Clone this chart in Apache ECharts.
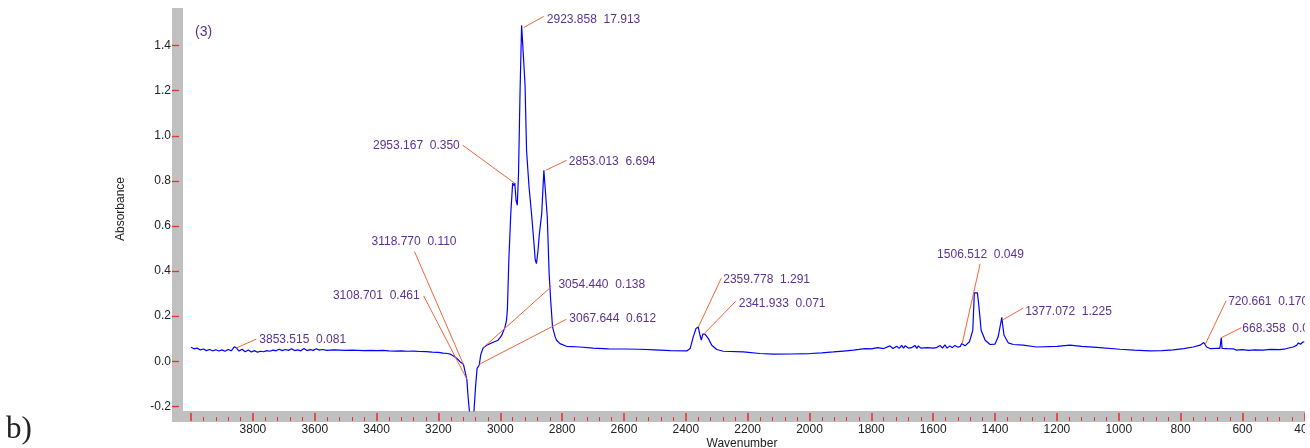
<!DOCTYPE html>
<html>
<head>
<meta charset="utf-8">
<script src="https://cdn.jsdelivr.net/npm/echarts@6/dist/echarts.min.js"></script>
<style>
  html, body { margin: 0; padding: 0; background: #fff; overflow: hidden; }
  #chart { width: 1305px; height: 448px; }
</style>
</head>
<body>
<div id="chart"></div>
<script>
// FTIR absorbance spectrum, [wavenumber (cm-1), absorbance]
const spectrum = [
  [4000,0.062],[3990,0.055],[3980,0.058],[3970,0.050],[3960,0.054],[3950,0.047],[3940,0.052],[3930,0.046],
  [3920,0.051],[3910,0.045],[3900,0.050],[3890,0.044],[3880,0.052],[3870,0.046],[3860,0.064],[3853,0.058],
  [3845,0.045],[3835,0.053],[3825,0.042],[3815,0.050],[3805,0.041],[3795,0.047],[3785,0.040],[3775,0.044],
  [3765,0.042],[3755,0.047],[3745,0.044],[3735,0.049],[3725,0.046],[3715,0.053],[3705,0.047],[3695,0.052],
  [3685,0.048],[3675,0.055],[3665,0.047],[3655,0.050],[3645,0.046],[3635,0.056],[3625,0.047],[3615,0.051],
  [3605,0.048],[3595,0.055],[3585,0.049],[3575,0.052],[3560,0.048],[3540,0.050],[3520,0.049],[3500,0.048],
  [3480,0.049],[3460,0.048],[3440,0.047],[3420,0.048],[3400,0.047],[3380,0.048],[3360,0.046],[3340,0.045],
  [3320,0.046],[3300,0.044],[3280,0.045],[3260,0.043],[3240,0.042],[3220,0.040],[3200,0.039],[3185,0.036],
  [3170,0.034],[3160,0.030],[3150,0.022],[3140,0.012],[3128,-0.005],[3119,-0.014],[3114,-0.045],[3108,-0.083],
  [3104,-0.160],[3100,-0.220],[3096,-0.250],[3090,-0.260],[3085,-0.220],[3080,-0.114],[3075,-0.032],[3068,-0.017],
  [3063,0.030],[3055,0.060],[3044,0.071],[3023,0.084],[3007,0.093],[2996,0.113],[2985,0.150],[2980,0.180],
  [2977,0.230],[2972,0.460],[2966,0.655],[2960,0.790],[2956,0.780],[2953,0.790],[2949,0.714],[2945,0.692],
  [2941,0.832],[2936,1.200],[2931,1.490],[2926,1.490],[2924,1.490],[2920,1.230],[2915,0.935],[2907,0.773],
  [2899,0.655],[2891,0.522],[2887,0.450],[2883,0.433],[2878,0.490],[2874,0.559],[2866,0.655],[2859,0.847],
  [2853,0.847],[2848,0.640],[2842,0.389],[2837,0.270],[2831,0.152],[2823,0.110],[2818,0.093],[2807,0.078],
  [2786,0.066],[2743,0.063],[2700,0.058],[2650,0.055],[2600,0.054],[2550,0.053],[2500,0.050],[2450,0.047],
  [2396,0.046],[2386,0.056],[2376,0.108],[2367,0.145],[2360,0.152],[2354,0.115],[2350,0.093],[2345,0.120],
  [2338,0.120],[2327,0.100],[2316,0.071],[2300,0.052],[2279,0.044],[2214,0.041],[2160,0.034],[2117,0.031],
  [2060,0.032],[1998,0.034],[1960,0.037],[1923,0.041],[1890,0.045],[1858,0.049],[1840,0.052],[1820,0.056],
  [1800,0.055],[1780,0.060],[1760,0.056],[1740,0.068],[1730,0.056],[1718,0.066],[1710,0.057],[1702,0.070],
  [1696,0.058],[1691,0.068],[1680,0.058],[1670,0.060],[1659,0.070],[1653,0.057],[1648,0.068],[1640,0.058],
  [1620,0.060],[1600,0.058],[1590,0.060],[1578,0.070],[1570,0.058],[1562,0.072],[1555,0.058],[1546,0.068],
  [1538,0.060],[1530,0.070],[1520,0.062],[1512,0.066],[1508,0.078],[1497,0.068],[1483,0.086],[1472,0.137],
  [1467,0.303],[1457,0.303],[1452,0.241],[1445,0.137],[1432,0.093],[1416,0.074],[1400,0.076],[1390,0.108],
  [1378,0.195],[1376,0.167],[1371,0.115],[1357,0.081],[1341,0.074],[1309,0.071],[1265,0.063],[1200,0.066],
  [1158,0.071],[1120,0.066],[1072,0.061],[996,0.053],[950,0.049],[899,0.046],[860,0.047],[824,0.050],
  [790,0.056],[759,0.063],[737,0.071],[725,0.083],[716,0.063],[705,0.056],[683,0.057],[673,0.057],
  [671,0.057],[668.4,0.105],[666,0.057],[650,0.056],[630,0.055],[619,0.049],[600,0.051],[580,0.048],
  [560,0.050],[533,0.049],[510,0.052],[479,0.051],[460,0.055],[436,0.063],[425,0.070],[419,0.081],
  [412,0.075],[405,0.085],[400,0.086]
];

// Picked peaks: wavenumber and the value printed beside it
const peakWavenumbers = [3853.515, 3118.770, 3108.701, 3067.644, 3054.440, 2953.167, 2923.858,
                         2853.013, 2359.778, 2341.933, 1506.512, 1377.072, 720.661, 668.358];
const peakValues = [0.081, 0.110, 0.461, 0.612, 0.138, 0.350, 17.913,
                    6.694, 1.291, 0.071, 0.049, 1.225, 0.170, 0.062];

// Pixel offsets of each peak label (text anchor and leader-line start) from its peak
const peakLabelLayout = [
  { tx: 23,  ty: -8,   align: 'left',  lx: 20,  ly: -9 },
  { tx: -92, ty: -123, align: 'left',  lx: -49, ly: -113 },
  { tx: -47, ty: -83,  align: 'right', lx: -43, ly: -83 },
  { tx: 90,  ty: -46,  align: 'left',  lx: 87,  ly: -45 },
  { tx: 75,  ty: -63,  align: 'left',  lx: 68,  ly: -61 },
  { tx: -55, ty: -38,  align: 'right', lx: -52, ly: -38 },
  { tx: 23,  ty: -8,   align: 'left',  lx: 20,  ly: -11 },
  { tx: 23,  ty: -9,   align: 'left',  lx: 21,  ly: -10 },
  { tx: 25,  ty: -48,  align: 'left',  lx: 23,  ly: -49 },
  { tx: 35,  ty: -30,  align: 'left',  lx: 32,  ly: -33 },
  { tx: -25, ty: -89,  align: 'left',  lx: 18,  ly: -80 },
  { tx: 23,  ty: -8,   align: 'left',  lx: 21,  ly: -12 },
  { tx: 23,  ty: -43,  align: 'left',  lx: 21,  ly: -44 },
  { tx: 21,  ty: -9,   align: 'left',  lx: 20,  ly: -10 }
];

const xTickLabels = [3800, 3600, 3400, 3200, 3000, 2800, 2600, 2400, 2200, 2000,
                     1800, 1600, 1400, 1200, 1000, 800, 600, 400];
const xMajorTicks = [4000].concat(xTickLabels);
const yTickLabels = [-0.2, 0.0, 0.2, 0.4, 0.6, 0.8, 1.0, 1.2, 1.4];

// minor ticks every 40 cm-1 between the labelled ones
const xMinorTicks = [];
for (let w = 4000; w > 400; w -= 40) {
  if (w % 200 !== 0) xMinorTicks.push(w);
}

// absorbance of the drawn curve at a given wavenumber (for anchoring leader lines)
function absorbanceAt(w) {
  for (let i = 0; i < spectrum.length - 1; i++) {
    const a = spectrum[i], b = spectrum[i + 1];
    if (w <= a[0] && w >= b[0]) {
      const t = (a[0] - w) / (a[0] - b[0]);
      return a[1] + (b[1] - a[1]) * t;
    }
  }
  return 0;
}

const TEXT_FONT = '"Liberation Sans", Arial, Helvetica, sans-serif';
const PURPLE = '#5a3294';
const TICK_RED = '#e8322e';
const FRAME_GRAY = '#c0c0c0';
const X_MIN = 397.7, X_MAX = 4026;
const Y_MIN = -0.221, Y_MAX = 1.567;

const chart = echarts.init(document.getElementById('chart'), null, { renderer: 'canvas' });

chart.setOption({
  backgroundColor: '#ffffff',
  animation: false,
  grid: { left: 183, right: 0, top: 8, bottom: 37, outerBoundsMode: 'none' },
  xAxis: [
    {
      type: 'value', position: 'bottom', inverse: true, min: X_MIN, max: X_MAX, offset: 10, z: 5,
      axisLine: { show: false, onZero: false },
      splitLine: { show: false },
      axisTick: { show: true, inside: true, length: 8, customValues: xMajorTicks,
                  lineStyle: { color: TICK_RED, width: 1.6 } },
      axisLabel: { show: true, customValues: xTickLabels, margin: 3,
                   color: '#222', fontSize: 12, fontFamily: TEXT_FONT,
                   formatter: v => String(v) }
    },
    {
      type: 'value', position: 'bottom', inverse: true, min: X_MIN, max: X_MAX, offset: 10, z: 5,
      axisLine: { show: false, onZero: false },
      splitLine: { show: false },
      axisTick: { show: true, inside: true, length: 4, customValues: xMinorTicks,
                  lineStyle: { color: TICK_RED, width: 1 } },
      axisLabel: { show: false }
    }
  ],
  yAxis: {
    type: 'value', position: 'left', min: Y_MIN, max: Y_MAX, offset: 4, z: 5,
    axisLine: { show: false, onZero: false },
    splitLine: { show: false },
    axisTick: { show: true, inside: false, length: 7, customValues: yTickLabels,
                lineStyle: { color: TICK_RED, width: 1.3 } },
    axisLabel: { show: true, customValues: yTickLabels, margin: 8,
                 color: '#222', fontSize: 12, fontFamily: TEXT_FONT,
                 formatter: v => v.toFixed(1) }
  },
  graphic: [
    { type: 'rect', z: -1, silent: true, shape: { x: 172, y: 8, width: 11, height: 414 },
      style: { fill: FRAME_GRAY } },
    { type: 'rect', z: -1, silent: true, shape: { x: 172, y: 411, width: 1140, height: 11 },
      style: { fill: FRAME_GRAY } },
    { type: 'text', x: 742, y: 443.8, silent: true,
      style: { text: 'Wavenumber', font: '12px ' + TEXT_FONT, fill: '#222',
               align: 'center', verticalAlign: 'middle' } },
    { type: 'text', x: 121, y: 209, rotation: Math.PI / 2, silent: true,
      style: { text: 'Absorbance', font: '12px ' + TEXT_FONT, fill: '#222',
               align: 'center', verticalAlign: 'middle' } },
    { type: 'text', x: 195, y: 32.5, silent: true,
      style: { text: '(3)', font: '14px ' + TEXT_FONT, fill: PURPLE,
               align: 'left', verticalAlign: 'middle' } },
    { type: 'text', x: 6, y: 429.5, silent: true,
      style: { text: 'b)', font: '31px "Liberation Serif", "Times New Roman", serif', fill: '#222',
               align: 'left', verticalAlign: 'middle' } }
  ],
  series: [
    {
      type: 'line',
      xAxisIndex: 0,
      data: spectrum,
      showSymbol: false,
      clip: true,
      lineStyle: { color: '#0000ff', width: 1.2 },
      z: 2
    },
    {
      type: 'custom',
      xAxisIndex: 0,
      z: 3,
      data: peakWavenumbers.map((w, i) => [w, absorbanceAt(w), i]),
      encode: { x: 0, y: 1 },
      renderItem: function (params, api) {
        const i = params.dataIndex;
        const p = api.coord([api.value(0), api.value(1)]);
        const L = peakLabelLayout[i];
        const label = peakWavenumbers[i].toFixed(3) + '  ' + peakValues[i].toFixed(3);
        return {
          type: 'group',
          children: [
            { type: 'line',
              shape: { x1: p[0] + L.lx, y1: p[1] + L.ly, x2: p[0], y2: p[1] },
              style: { stroke: '#f0673a', lineWidth: 1 } },
            { type: 'text', x: p[0] + L.tx, y: p[1] + L.ty,
              style: { text: label, font: '12px ' + TEXT_FONT, fill: PURPLE,
                       align: L.align, verticalAlign: 'middle' } }
          ]
        };
      }
    }
  ]
});
</script>
</body>
</html>
